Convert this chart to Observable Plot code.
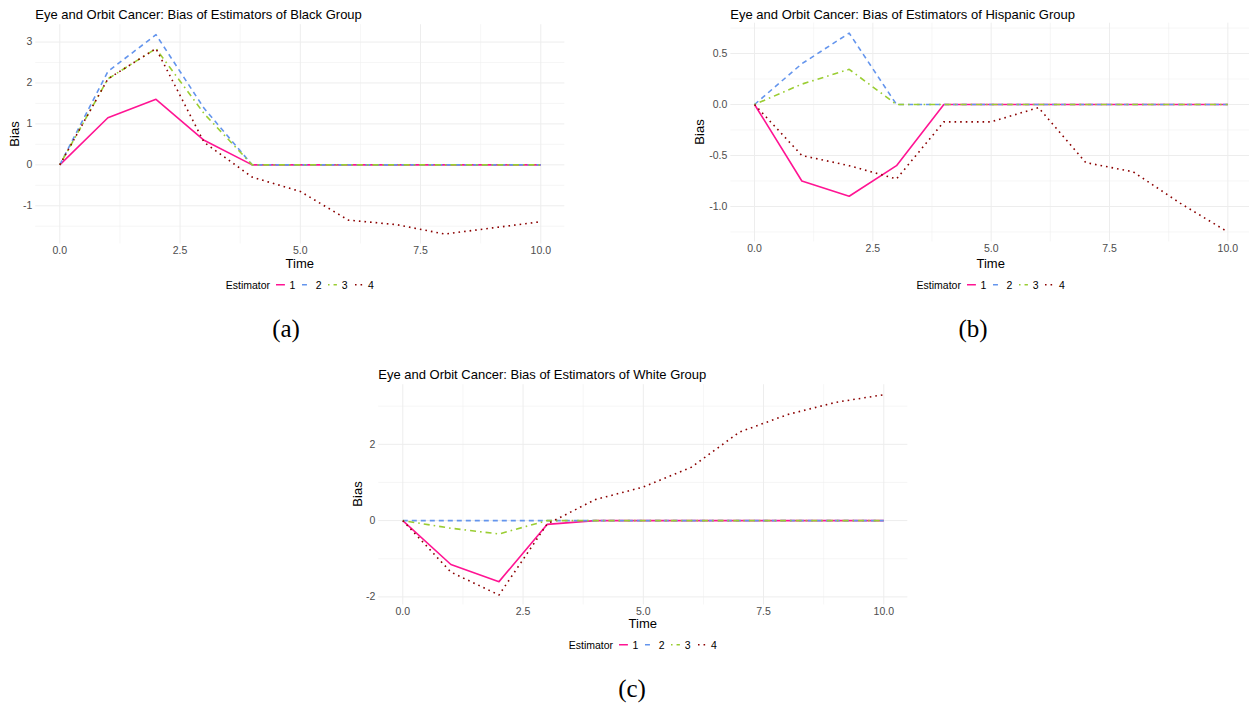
<!DOCTYPE html>
<html><head><meta charset="utf-8">
<script src="https://cdn.jsdelivr.net/npm/d3@7"></script>
<script src="https://cdn.jsdelivr.net/npm/@observablehq/plot@0.6"></script>
<style>
body{margin:0;background:#fff;}
#page{position:relative;width:1249px;height:707px;overflow:hidden;background:#fff;font-family:"Liberation Sans",Arial,sans-serif;}
.abs{position:absolute;white-space:nowrap;line-height:1;}
</style></head><body><div id="page"></div>
<script>
// ---- data ----
const time = [0,1,2,3,4,5,6,7,8,9,10];
const estimators = ["1","2","3","4"];

const black1 = [0, 1.15, 1.6, 0.6, 0, 0, 0, 0, 0, 0, 0];
const black2 = [0, 2.28, 3.18, 1.38, 0, 0, 0, 0, 0, 0, 0];
const black3 = [0, 2.1, 2.84, 1.25, 0, 0, 0, 0, 0, 0, 0];
const black4 = [0, 2.1, 2.84, 0.55, -0.3, -0.65, -1.35, -1.46, -1.69, -1.54, -1.39];

const hisp1 = [0, -0.75, -0.9, -0.6, 0, 0, 0, 0, 0, 0, 0];
const hisp2 = [0, 0.4, 0.7, 0, 0, 0, 0, 0, 0, 0, 0];
const hisp3 = [0, 0.2, 0.345, 0, 0, 0, 0, 0, 0, 0, 0];
const hisp4 = [0, -0.5, -0.6, -0.73, -0.17, -0.17, -0.03, -0.57, -0.66, -0.97, -1.25];

const white1 = [0, -1.15, -1.6, -0.1, 0, 0, 0, 0, 0, 0, 0];
const white2 = [0, 0, 0, 0, 0, 0, 0, 0, 0, 0, 0];
const white3 = [0, -0.2, -0.35, 0, 0, 0, 0, 0, 0, 0, 0];
const white4 = [0, -1.35, -1.95, -0.09, 0.55, 0.88, 1.4, 2.32, 2.78, 3.1, 3.3];

const xTicks = [0, 2.5, 5, 7.5, 10];
const blackYTicks = [-1, 0, 1, 2, 3];
const hispYTicks = [-1, -0.5, 0, 0.5];
const whiteYTicks = [-2, 0, 2];

const titles = [
  "Eye and Orbit Cancer: Bias of Estimators of Black Group",
  "Eye and Orbit Cancer: Bias of Estimators of Hispanic Group",
  "Eye and Orbit Cancer: Bias of Estimators of White Group"
];
const subLabels = ["(a)", "(b)", "(c)"];

// ---- styles ----
const colors = ["#FF1493", "#6495ED", "#9ACD32", "#8B0000"];
const dashes = [null, "5,4", "1.6,4,6,4", "1.6,4"];

const page = document.getElementById("page");

function addText(txt, x, y, opts = {}) {
  const d = document.createElement("div");
  d.className = "abs";
  d.textContent = txt;
  d.style.left = x + "px";
  d.style.top = y + "px";
  d.style.fontSize = (opts.size || 13) + "px";
  d.style.color = opts.color || "#000";
  if (opts.family) d.style.fontFamily = opts.family;
  const tx = opts.anchor === "start" ? "0" : "-50%";
  d.style.transform = `translate(${tx},-50%)` + (opts.rotate ? ` rotate(${opts.rotate}deg)` : "");
  page.appendChild(d);
  return d;
}

function expand([a, b], f = 0.05) { const s = (b - a) * f; return [a - s, b + s]; }
function minors(ticks, dom) {
  const step = ticks[1] - ticks[0];
  const out = [];
  for (let t = ticks[0] - step; t <= ticks[ticks.length - 1] + step / 2; t += step) {
    const m = t + step / 2;
    if (m >= dom[0] && m <= dom[1]) out.push(m);
  }
  return out;
}

function panel(cfg) {
  const rows = [];
  cfg.series.forEach((vals, i) => vals.forEach((v, j) => rows.push({time: time[j], bias: v, est: estimators[i]})));
  const xDom = expand(d3.extent(time));
  const yDom = expand(d3.extent(rows, d => d.bias));
  const {svg, frame} = cfg;
  const fmtY = d => d.toFixed(cfg.yDigits);
  const chart = Plot.plot({
    width: svg.width, height: svg.height,
    marginLeft: frame.left - svg.left,
    marginRight: svg.left + svg.width - frame.right,
    marginTop: frame.top - svg.top,
    marginBottom: svg.top + svg.height - frame.bottom,
    style: {fontFamily: "'Liberation Sans', Arial, sans-serif", fontSize: "10.5px", color: "#4D4D4D", background: "transparent", overflow: "visible"},
    x: {domain: xDom, ticks: xTicks, tickFormat: d => d.toFixed(1), tickSize: 0, tickPadding: 2.5, label: null},
    y: {domain: yDom, ticks: cfg.yTicks, tickFormat: fmtY, tickSize: 0, tickPadding: 3.5, label: null},
    marks: [
      Plot.ruleX(minors(xTicks, xDom), {stroke: "#F0F0F0", strokeWidth: 0.6}),
      Plot.ruleY(minors(cfg.yTicks, yDom), {stroke: "#F0F0F0", strokeWidth: 0.6}),
      Plot.ruleX(xTicks, {stroke: "#EDEDED", strokeWidth: 1}),
      Plot.ruleY(cfg.yTicks, {stroke: "#EDEDED", strokeWidth: 1}),
      ...estimators.map((e, i) => Plot.line(rows, {
        filter: d => d.est === e, x: "time", y: "bias",
        stroke: colors[i], strokeWidth: 1.6,
        strokeDasharray: dashes[i] || undefined,
        strokeLinecap: "butt", strokeLinejoin: "round"
      }))
    ]
  });
  chart.style.position = "absolute";
  chart.style.left = svg.left + "px";
  chart.style.top = svg.top + "px";
  page.appendChild(chart);

  const cx = (frame.left + frame.right) / 2;
  const cy = (frame.top + frame.bottom) / 2;
  addText(cfg.title, frame.left, cfg.titleY, {size: 13, anchor: "start", color: "#000"});
  addText("Time", cx, cfg.timeY, {size: 13, color: "#000"});
  addText("Bias", cfg.biasX, cy, {size: 13, color: "#000", rotate: -90});

  // legend
  const lg = document.createElement("div");
  lg.className = "abs";
  lg.style.left = cx + "px";
  lg.style.top = cfg.legendY + "px";
  lg.style.transform = "translate(-50%,-50%)";
  lg.style.display = "flex";
  lg.style.alignItems = "center";
  lg.style.fontSize = "10.5px";
  lg.style.color = "#000";
  const t = document.createElement("span");
  t.textContent = "Estimator";
  t.style.marginRight = "6px";
  lg.appendChild(t);
  estimators.forEach((e, i) => {
    const ns = "http://www.w3.org/2000/svg";
    const k = document.createElementNS(ns, "svg");
    k.setAttribute("width", 9); k.setAttribute("height", 10);
    const ln = document.createElementNS(ns, "line");
    ln.setAttribute("x1", 0); ln.setAttribute("x2", 9);
    ln.setAttribute("y1", 5); ln.setAttribute("y2", 5);
    ln.setAttribute("stroke", colors[i]);
    ln.setAttribute("stroke-width", 1.6);
    if (dashes[i]) ln.setAttribute("stroke-dasharray", dashes[i]);
    k.appendChild(ln);
    lg.appendChild(k);
    const s = document.createElement("span");
    s.textContent = e;
    s.style.marginLeft = "4.5px";
    s.style.marginRight = i < estimators.length - 1 ? "6.8px" : "0";
    lg.appendChild(s);
  });
  page.appendChild(lg);

  addText(cfg.sub, cfg.subX, cfg.subY, {size: 25, family: "'Liberation Serif', 'Times New Roman', serif", color: "#000"});
}

panel({
  title: titles[0], series: [black1, black2, black3, black4], yTicks: blackYTicks, yDigits: 0,
  svg: {left: 0, top: 0, width: 575, height: 280},
  frame: {left: 35.25, right: 564.35, top: 24.2, bottom: 243.5},
  titleY: 13.8, timeY: 263, biasX: 14, legendY: 285, sub: subLabels[0], subX: 286, subY: 328
});
panel({
  title: titles[1], series: [hisp1, hisp2, hisp3, hisp4], yTicks: hispYTicks, yDigits: 1,
  svg: {left: 690, top: 0, width: 565, height: 280},
  frame: {left: 730.35, right: 1251, top: 22.7, bottom: 241.4},
  titleY: 13.8, timeY: 263, biasX: 699, legendY: 285, sub: subLabels[1], subX: 973, subY: 328
});
panel({
  title: titles[2], series: [white1, white2, white3, white4], yTicks: whiteYTicks, yDigits: 0,
  svg: {left: 340, top: 360, width: 580, height: 280},
  frame: {left: 378.25, right: 907.35, top: 384.2, bottom: 604.5},
  titleY: 373.8, timeY: 623, biasX: 357, legendY: 645, sub: subLabels[2], subX: 632, subY: 688
});
</script>
</body></html>
